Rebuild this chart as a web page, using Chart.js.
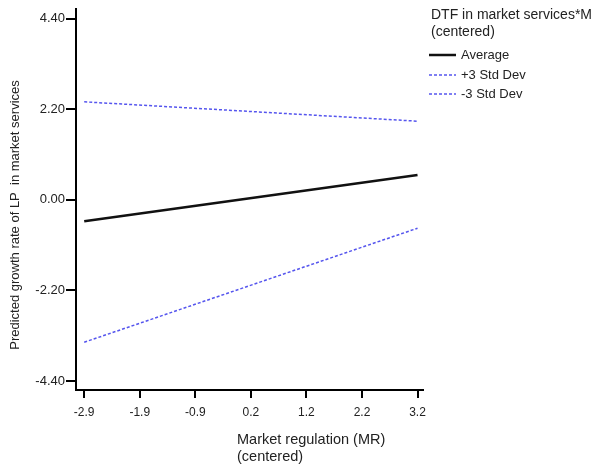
<!DOCTYPE html>
<html>
<head>
<meta charset="utf-8">
<script src="https://cdn.jsdelivr.net/npm/chart.js@4"></script>
<style>
  html, body { margin: 0; padding: 0; background: #fff; }
  #wrap { width: 593px; height: 466px; position: relative; }
</style>
</head>
<body>
<div id="wrap"><canvas id="chart" width="593" height="466"></canvas></div>
<script>
// Data
const xEnds = [-2.9, 3.2];
const averageVals = [-0.52, 0.6];
const plus3Vals = [2.38, 1.91];
const minus3Vals = [-3.46, -0.69];
const xTickLabels = ["-2.9", "-1.9", "-0.9", "0.2", "1.2", "2.2", "3.2"];
const yTickLabels = ["4.40", "2.20", "0.00", "-2.20", "-4.40"];
const legendTitle = ["DTF in market services*MR", "(centered)"];
const seriesNames = ["Average", "+3 Std Dev", "-3 Std Dev"];

const FONT = "'Liberation Sans', Arial, sans-serif";
const BLUE = "#5555ee";

const toPoints = (vals) => vals.map((v, i) => ({ x: xEnds[i], y: v }));

// custom legend + axis titles, SPSS style
const decorPlugin = {
  id: "decor",
  afterDraw(chart) {
    const ctx = chart.ctx;
    ctx.save();
    ctx.fillStyle = "#222";
    ctx.textBaseline = "middle";
    ctx.textAlign = "left";

    // legend title
    ctx.font = "14px " + FONT;
    ctx.fillText(legendTitle[0], 431, 15);
    ctx.fillText(legendTitle[1], 431, 32);

    // legend items
    const rows = [55, 75, 94];
    chart.data.datasets.forEach((ds, i) => {
      ctx.beginPath();
      ctx.strokeStyle = ds.borderColor;
      ctx.lineWidth = ds.borderWidth;
      ctx.setLineDash(ds.borderDash || []);
      ctx.moveTo(429, rows[i]);
      ctx.lineTo(456, rows[i]);
      ctx.stroke();
      ctx.setLineDash([]);
      ctx.font = "13px " + FONT;
      ctx.fillText(ds.label, 461, rows[i]);
    });

    // x axis title
    ctx.font = "14.5px " + FONT;
    ctx.fillText("Market regulation (MR)", 237, 440);
    ctx.fillText("(centered)", 237, 457);

    // y axis title
    ctx.translate(15, 215);
    ctx.rotate(-Math.PI / 2);
    ctx.textAlign = "center";
    ctx.font = "13px " + FONT;
    ctx.fillText("Predicted growth rate of LP  in market services", 0, 0);
    ctx.restore();
  },
};

new Chart(document.getElementById("chart").getContext("2d"), {
  type: "line",
  data: {
    datasets: [
      {
        label: seriesNames[0],
        data: toPoints(averageVals),
        borderColor: "#111",
        borderWidth: 2.5,
        pointRadius: 0,
      },
      {
        label: seriesNames[1],
        data: toPoints(plus3Vals),
        borderColor: BLUE,
        borderWidth: 1.5,
        borderDash: [3, 2],
        pointRadius: 0,
      },
      {
        label: seriesNames[2],
        data: toPoints(minus3Vals),
        borderColor: BLUE,
        borderWidth: 1.5,
        borderDash: [3, 2],
        pointRadius: 0,
      },
    ],
  },
  options: {
    responsive: false,
    animation: false,
    layout: { padding: { left: 0, top: 7, right: 170, bottom: 0 } },
    plugins: { legend: { display: false }, tooltip: { enabled: false } },
    scales: {
      x: {
        type: "linear",
        min: -3.05,
        max: 3.3,
        afterBuildTicks: (scale) => {
          const step = (xEnds[1] - xEnds[0]) / (xTickLabels.length - 1);
          scale.ticks = xTickLabels.map((_, i) => ({ value: xEnds[0] + i * step }));
        },
        afterFit: (scale) => { scale.height = 76; },
        ticks: {
          autoSkip: false,
          maxRotation: 0,
          padding: 7,
          color: "#222",
          font: { family: FONT, size: 12 },
          callback: (v, i) => xTickLabels[i],
        },
        grid: { drawOnChartArea: false, drawTicks: true, tickLength: 8, color: "#000", lineWidth: 2 },
        border: { display: true, color: "#000", width: 2 },
      },
      y: {
        min: -4.62,
        max: 4.64,
        afterBuildTicks: (scale) => {
          scale.ticks = yTickLabels.map((t) => ({ value: parseFloat(t) }));
        },
        afterFit: (scale) => { scale.width = 76; },
        ticks: {
          autoSkip: false,
          padding: 1,
          color: "#222",
          font: { family: FONT, size: 13 },
          callback: (v) => v.toFixed(2),
        },
        grid: { drawOnChartArea: false, drawTicks: true, tickLength: 10, color: "#000", lineWidth: 2 },
        border: { display: true, color: "#000", width: 2 },
      },
    },
  },
  plugins: [decorPlugin],
});
</script>
</body>
</html>
